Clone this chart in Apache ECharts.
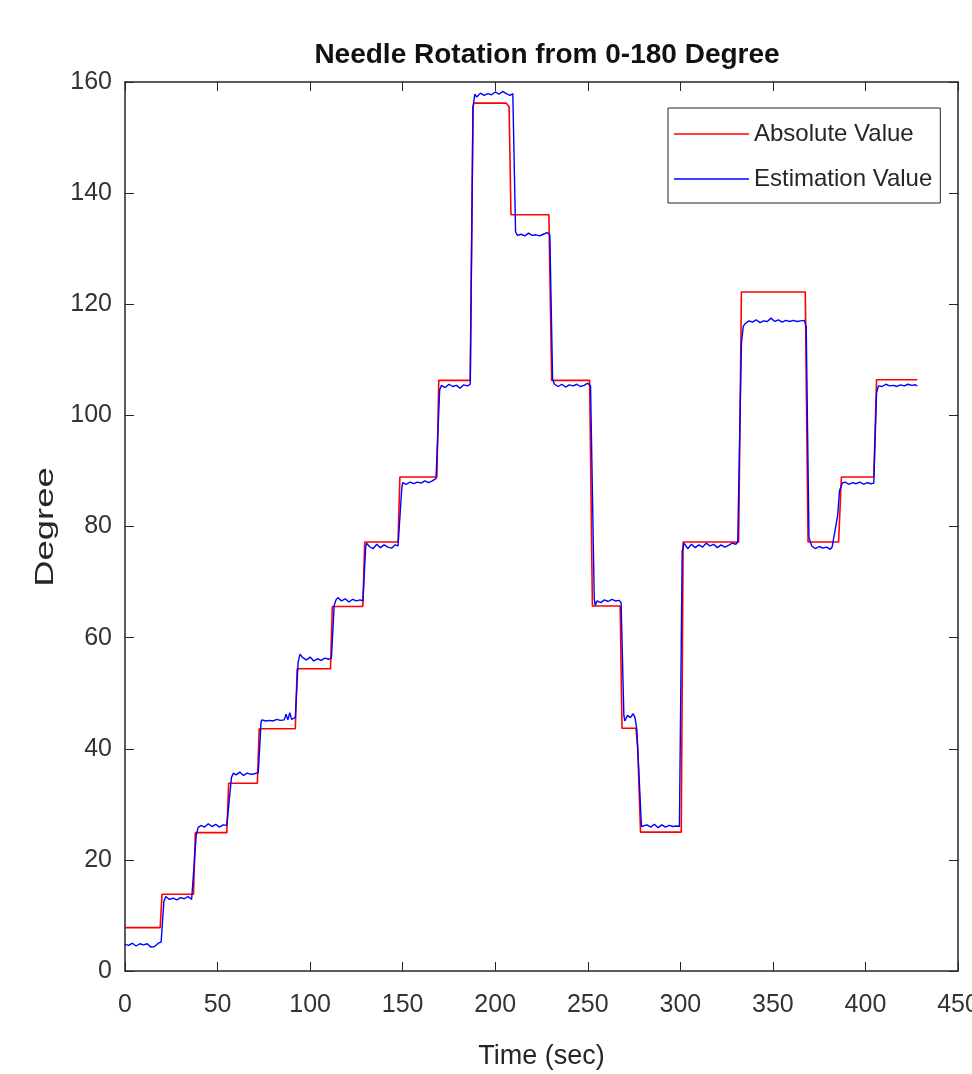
<!DOCTYPE html>
<html>
<head>
<meta charset="utf-8">
<script src="https://cdn.jsdelivr.net/npm/echarts@6/dist/echarts.min.js"></script>
<style>
html,body{margin:0;padding:0;background:#fff;}
#chart{width:972px;height:1074px;}
</style>
</head>
<body>
<div id="chart"></div>
<script>
const titleText = 'Needle Rotation from 0-180 Degree';
const xName = 'Time (sec)';
const yName = 'Degree';
const seriesNames = ['Absolute Value', 'Estimation Value'];

const absTime = [0,19,20,37,38,55,56,71.5,72.5,92,93,111,112,128.5,129.5,147.5,148.5,168.5,169.5,186.5,188,188.5,206,207.5,208.5,229,230.5,251,252.5,267.5,268.5,276,277,278.5,300.5,301.5,331.5,333,367.5,369,385.5,387,404.5,406,428];
const absValue = [7.8,7.8,13.8,13.8,24.9,24.9,33.8,33.8,43.6,43.6,54.4,54.4,65.6,65.6,77.2,77.2,88.9,88.9,106.3,106.3,155.5,156.2,156.2,155.5,136.1,136.1,106.3,106.3,65.7,65.7,43.7,43.7,40,25.0,25.0,77.2,77.2,122.2,122.2,77.2,77.2,88.9,88.9,106.4,106.4];

const estTime = [
0,2,4,6,8,10,12,14,16,18,19.5,21,
22,24,26,28,30,32,34,36,37,38.5,39.5,
41,43,45,47,49,51,53,55,56,57.5,
58.5,60,62,64,66,68,70,72,73.5,
74,76,78,80,82,84,86,87,88,89,90,92,93.5,94.5,
96,98,100,102,104,106,108,110,111.5,113,114,
115,117,119,121,123,125,127,128.5,130,130.5,
132,134,136,138,140,142,144,146,147.5,149.5,
150,152,154,156,158,160,162,164,166,168,170,171,
173,175,177,179,181,183,185,186.5,188,189,
190,192,194,196,198,200,202,204,206,208,209.5,211,
212,214,216,218,220,222,224,226,228,229.5,231,232,
234,236,238,240,242,244,246,248,250,251.5,253.5,
254,255,257,259,261,263,265,267,268,269.5,
270,271.5,273,274.5,275.5,276.5,279,
280,282,284,286,288,290,292,294,296,298,299.5,301,302,
303,304,306,308,310,312,314,316,318,320,322,324,326,328,330,331,333,334,335,
337,339,341,343,345,347,349,351,353,355,357,359,361,363,365,367,368,369.5,
370,371,373,375,377,379,381,382,383,385,386,387.5,
389,391,393,395,397,399,401,403,404.5,406,407,
409,411,413,415,417,419,421,423,425,427,428];
const estValue = [
4.8,4.6,5.0,4.5,4.9,4.7,4.9,4.3,4.4,5.0,5.2,12.5,
13.4,12.9,13.1,12.8,13.2,13.0,13.4,12.9,13.2,24.5,25.8,
26.2,25.9,26.5,26.0,26.4,25.9,26.3,26.2,26.4,34.8,
35.6,35.3,35.8,35.2,35.6,35.4,35.5,35.7,44.8,
45.2,45.0,45.1,45.0,45.3,45.1,45.2,46.2,45.2,46.5,45.3,45.6,55.5,57.0,
56.4,56.0,56.5,55.8,56.2,55.9,56.3,56.1,56.3,65.8,66.8,
67.2,66.6,67.0,66.4,66.9,66.6,66.8,66.6,76.2,77.0,
76.4,76.0,76.8,76.2,76.7,76.3,76.1,76.7,76.5,86.8,
87.9,87.6,88.0,87.7,88.0,87.8,88.2,87.9,88.2,88.6,104.6,105.4,
105.0,105.6,105.2,105.4,104.9,105.5,105.3,105.6,155.5,157.8,
157.3,158.0,157.6,157.9,157.7,158.2,157.8,158.3,157.9,157.6,157.9,133.0,
132.4,132.6,132.3,132.8,132.4,132.5,132.3,132.6,132.9,132.5,106.5,105.6,
105.2,105.6,105.1,105.5,105.3,105.6,105.2,105.4,105.8,105.3,67.0,
65.8,66.6,66.3,66.8,66.5,66.9,66.6,66.7,66.3,46.0,
45.0,46.0,45.6,46.3,45.6,43.5,26.0,
25.8,26.3,25.9,26.4,25.8,26.3,25.9,26.2,26.0,26.1,26.0,75.5,77.0,
76.5,76.0,76.8,76.2,76.7,76.3,77.0,76.5,76.8,76.2,76.7,76.3,76.6,77.0,76.8,77.2,113.0,116.0,116.5,
117.0,116.8,117.2,116.7,117.0,116.9,117.5,116.9,117.2,116.8,117.1,116.9,117.1,116.9,117.0,117.1,116.0,78.0,
77.5,76.5,76.0,76.4,76.1,76.3,75.9,76.3,76.0,82.0,86.5,87.8,
88.0,87.6,87.9,87.7,88.0,87.6,87.9,87.7,87.8,104.0,105.3,
105.2,105.6,105.3,105.4,105.2,105.5,105.3,105.6,105.4,105.5,105.3];

const xMin = 0, xMax = 450, xStep = 50;
const yMin = 0, yMax = 160, yStep = 20;

const axisColor = '#262626';
const sans = '"Liberation Sans", Arial, sans-serif';

const chart = echarts.init(document.getElementById('chart'), null, {renderer: 'canvas'});

function axisBase(extra) {
  return Object.assign({
    type: 'value',
    splitLine: {show: false},
    axisLine: {show: true, onZero: false, lineStyle: {color: axisColor, width: 1.5}},
    axisTick: {show: true, inside: true, length: 9, lineStyle: {color: axisColor, width: 1}}
  }, extra);
}

chart.setOption({
  backgroundColor: '#ffffff',
  animation: false,
  title: {
    text: titleText,
    left: 542, textAlign: 'center',
    top: 36,
    textStyle: {fontFamily: sans, fontWeight: 'bold', fontSize: 28, color: '#111'}
  },
  grid: {left: 125, right: 14, top: 82, bottom: 103, containLabel: false, outerBoundsMode: 'none'},
  legend: {
    data: seriesNames,
    orient: 'vertical',
    left: 668, top: 108,
    backgroundColor: '#fff',
    borderColor: axisColor, borderWidth: 1,
    padding: [14, 8, 12, 6],
    itemGap: 21,
    itemWidth: 75, itemHeight: 12,
    icon: 'path://M0,6 L75,6 L75,7.5 L0,7.5 Z',
    textStyle: {fontFamily: sans, fontSize: 24, color: '#262626'}
  },
  xAxis: [
    axisBase({
      min: xMin, max: xMax, interval: xStep, position: 'bottom',
      name: xName, nameLocation: 'middle', nameGap: 72,
      nameTextStyle: {fontFamily: sans, fontSize: 27, color: axisColor},
      axisLabel: {fontFamily: sans, fontSize: 25, color: '#333', margin: 22}
    }),
    axisBase({
      min: xMin, max: xMax, interval: xStep, position: 'top',
      axisLabel: {show: false}
    })
  ],
  yAxis: [
    axisBase({
      min: yMin, max: yMax, interval: yStep, position: 'left',
      axisLabel: {fontFamily: sans, fontSize: 25, color: '#333', margin: 13}
    }),
    axisBase({
      min: yMin, max: yMax, interval: yStep, position: 'right',
      axisLabel: {show: false}
    })
  ],
  graphic: [{
    type: 'text',
    x: 46, y: 527,
    rotation: Math.PI / 2,
    scaleX: 1.4,
    style: {
      text: yName,
      font: '26px "Liberation Sans", Arial, sans-serif',
      fill: '#262626',
      align: 'center',
      verticalAlign: 'middle'
    }
  }],
  series: [
    {
      name: seriesNames[0], type: 'line', symbol: 'none',
      xAxisIndex: 0, yAxisIndex: 0,
      data: absTime.map((t, i) => [t, absValue[i]]),
      lineStyle: {color: '#ff0000', width: 1.6},
      itemStyle: {color: '#ff0000'}
    },
    {
      name: seriesNames[1], type: 'line', symbol: 'none',
      xAxisIndex: 0, yAxisIndex: 0,
      data: estTime.map((t, i) => [t, estValue[i]]),
      lineStyle: {color: '#0000ff', width: 1.4},
      itemStyle: {color: '#0000ff'}
    }
  ]
});
</script>
</body>
</html>
